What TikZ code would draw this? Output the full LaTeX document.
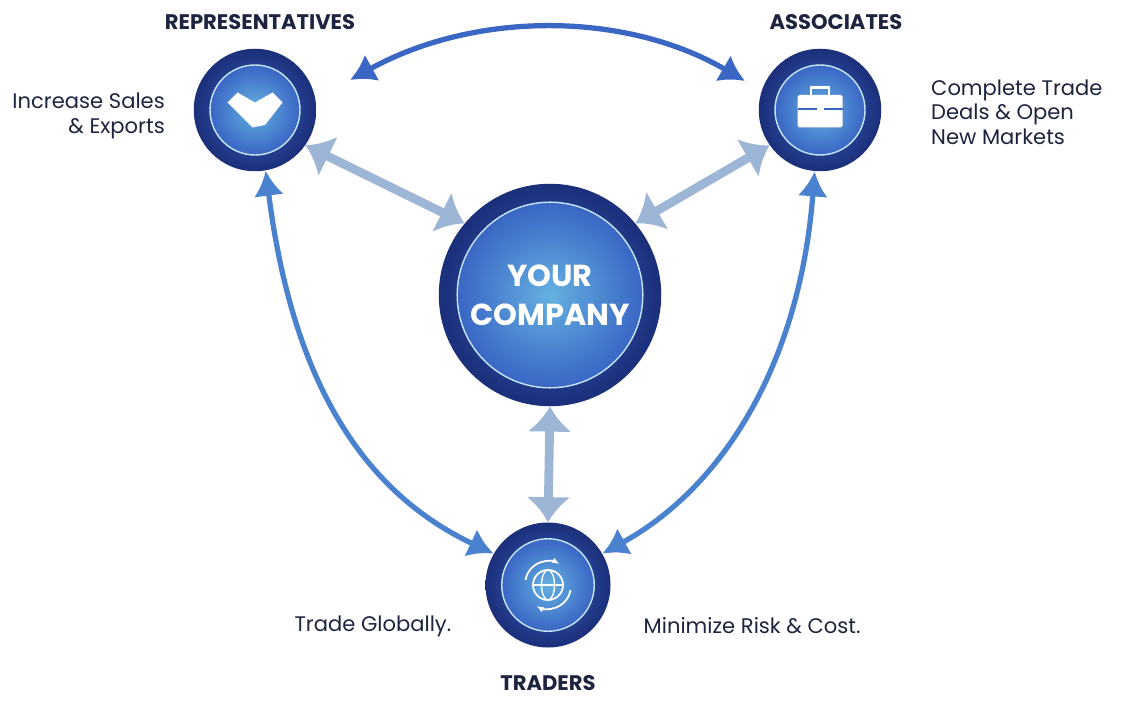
\documentclass[tikz,border=0pt]{standalone}
\usepackage{fontspec}
\setmainfont{Poppins}
\usetikzlibrary{calc}
\usetikzlibrary{arrows.meta}
\usetikzlibrary{positioning}
\definecolor{navy}{HTML}{1B2F7A}
\definecolor{midblue}{HTML}{3A66C4}
\definecolor{skyblue}{HTML}{6EC3E8}
\definecolor{paleblue}{HTML}{9DB6D6}
\definecolor{ink}{HTML}{1E2440}
\tikzset{
	hub/.style={circle, draw=none, shading=radial, inner color=midblue, outer color=navy},
	core/.style={circle, draw=white!60!skyblue, line width=0.8pt, shading=radial, inner color=skyblue!80!midblue, outer color=midblue},
	title/.style={font=\bfseries\large, text=ink},
	note/.style={font=\large, text=ink, align=left},
	loop/.style={line width=3pt, draw=midblue, -{Latex[length=5mm,width=6mm]}},
	both/.style={line width=3pt, draw=midblue, {Latex[length=5mm,width=6mm]}-{Latex[length=5mm,width=6mm]}},
	link/.style={line width=5pt, draw=paleblue, {Latex[length=5mm,width=9mm]}-{Latex[length=5mm,width=9mm]}}
}
\begin{document}
\begin{tikzpicture}
	\useasboundingbox (0,0) rectangle (22.46,14.22);

	% hubs
	\node[hub, minimum size=2.45cm] (rep) at (5.1,12.02) {};
	\node[core, minimum size=1.8cm] (repin) at (rep) {};
	\node[hub, minimum size=2.45cm] (asc) at (16.4,12.02) {};
	\node[core, minimum size=1.8cm] (ascin) at (asc) {};
	\node[hub, minimum size=4.45cm] (comp) at (11,8.32) {};
	\node[core, minimum size=3.5cm, text=white, font=\bfseries\LARGE, align=center] (compin) at (comp) {YOUR\\COMPANY};
	\node[hub, minimum size=2.5cm] (trd) at (10.96,2.52) {};
	\node[core, minimum size=1.85cm] (trdin) at (trd) {};

	% icons
	\fill[white, rounded corners=1pt] ($(asc)+(-0.45,-0.35)$) rectangle ($(asc)+(0.45,0.3)$);
	\draw[white, line width=1.5pt] ($(asc)+(-0.18,0.3)$) -- ++(0,0.15) -- ++(0.36,0) -- ++(0,-0.15);
	\draw[midblue, line width=0.8pt] ($(asc)+(-0.45,0.02)$) -- ($(asc)+(0.45,0.02)$);
	\fill[white] ($(asc)+(-0.07,-0.06)$) rectangle ($(asc)+(0.07,0.1)$);
	\draw[white, line width=1pt] (trd) circle (0.3);
	\draw[white, line width=0.8pt] (trd) ellipse (0.13 and 0.3);
	\draw[white, line width=0.8pt] ($(trd)+(-0.3,0)$) -- ($(trd)+(0.3,0)$);
	\draw[white, line width=1pt, -{Latex[length=1.5mm]}] ($(trd)+(-0.45,0.1)$) arc (170:60:0.46);
	\draw[white, line width=1pt, -{Latex[length=1.5mm]}] ($(trd)+(0.45,-0.1)$) arc (-10:-120:0.46);
	\fill[white] ($(rep)+(-0.55,0.15)$) -- ($(rep)+(-0.35,0.35)$) -- ($(rep)+(0,0.15)$) -- ($(rep)+(0.35,0.35)$) -- ($(rep)+(0.55,0.15)$) -- ($(rep)+(0.2,-0.3)$) -- ($(rep)+(-0.05,-0.35)$) -- ($(rep)+(-0.3,-0.1)$) -- cycle;

	% titles and notes
	\node[title] (reptxt) at (5.2,13.78) {REPRESENTATIVES};
	\node[title] (asctxt) at (16.72,13.78) {ASSOCIATES};
	\node[title] (trdtxt) at (10.96,0.56) {TRADERS};
	\node[note, align=right, anchor=east] (repnote) at (3.42,11.9) {Increase Sales\\\& Exports};
	\node[note, anchor=west] (ascnote) at (18.5,11.98) {Complete Trade\\Deals \& Open\\New Markets};
	\node[note, anchor=east] (trdnote1) at (9.15,1.7) {Trade Globally.};
	\node[note, anchor=west] (trdnote2) at (12.75,1.7) {Minimize Risk \& Cost.};

	% links to the company
	\draw[link] (rep.-35) -- (comp.140);
	\draw[link] (asc.-145) -- (comp.40);
	\draw[link] (comp.-90) -- (trd.90);

	% outer loop
	\coordinate (topA) at (14.9,12.6);
	\coordinate (topR) at (7,12.62);
	\draw[both, draw=midblue] (topR) .. controls (9.5,14) and (12.5,14) .. (topA);
	\draw[both, draw=midblue!70!skyblue] (rep.-80) .. controls (5.8,7) and (7,4.5) .. (trd.150);
	\draw[both, draw=midblue!70!skyblue] (asc.-95) .. controls (16,7) and (14.5,4.5) .. (trd.30);
\end{tikzpicture}
\end{document}
